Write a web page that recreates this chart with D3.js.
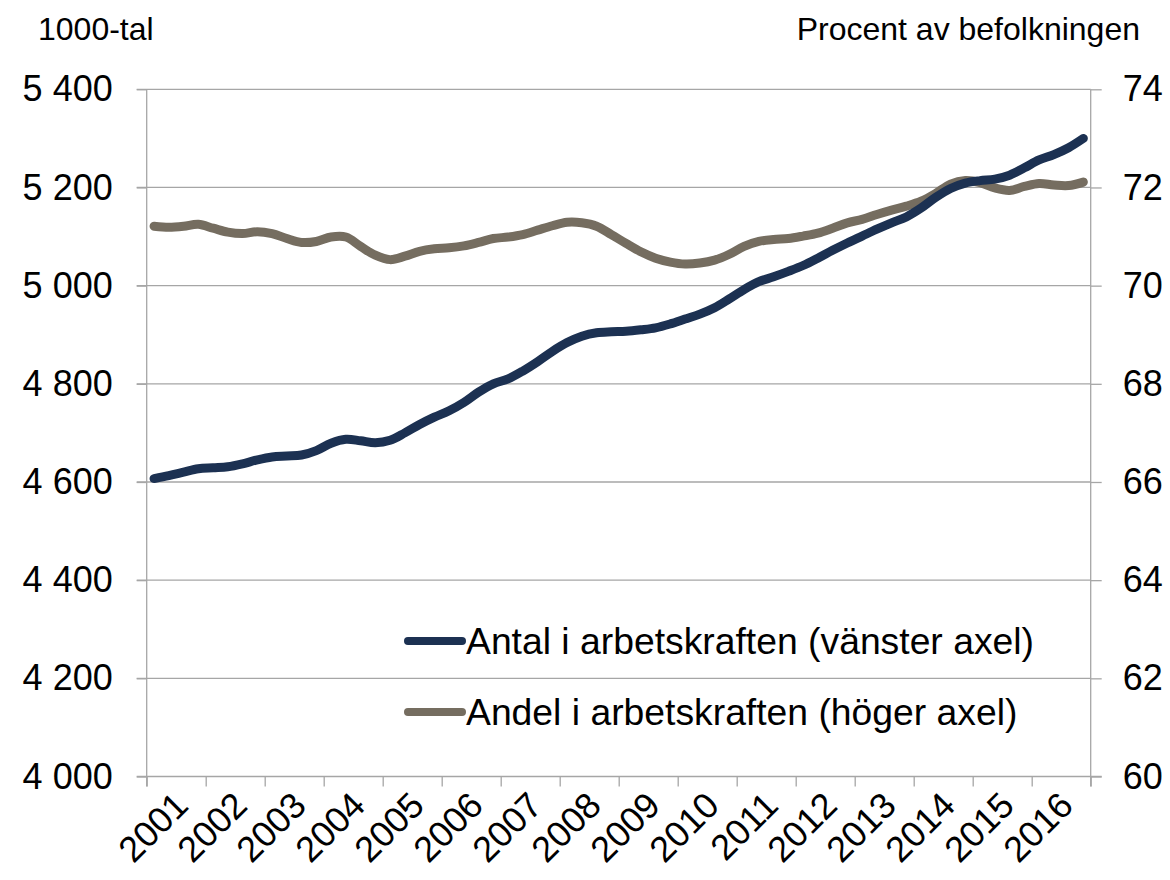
<!DOCTYPE html>
<html>
<head>
<meta charset="utf-8">
<script src="https://cdn.jsdelivr.net/npm/d3@7"></script>
<style>
  body { margin: 0; background: #fff; }
  svg { font-family: "Liberation Sans", Arial, sans-serif; }
</style>
</head>
<body>
<svg width="1170" height="880"></svg>
<script>
// quarterly data 2001 Q1 - 2016 Q4
const years = d3.range(2001, 2017);

// Antal i arbetskraften, 1000-tal (left axis)
const antal = [
  4607, 4613, 4620, 4627, 4629, 4631, 4637, 4645,
  4651, 4653, 4655, 4664, 4679, 4687, 4684, 4680,
  4685, 4700, 4717, 4732, 4745, 4762, 4783, 4800,
  4810, 4826, 4845, 4866, 4884, 4897, 4904, 4906,
  4907, 4910, 4914, 4922, 4932, 4942, 4955, 4973,
  4992, 5008, 5018, 5029, 5041, 5056, 5072, 5087,
  5101, 5115, 5128, 5140, 5158, 5180, 5198, 5209,
  5214, 5217, 5225, 5240, 5256, 5267, 5281, 5300
];

// Andel i arbetskraften, procent av befolkningen (right axis)
const andel = [
  71.21, 71.19, 71.21, 71.25, 71.17, 71.09, 71.06, 71.10,
  71.06, 70.96, 70.88, 70.90, 70.99, 70.99, 70.80, 70.62,
  70.53, 70.60, 70.70, 70.75, 70.77, 70.81, 70.88, 70.96,
  70.99, 71.04, 71.13, 71.22, 71.29, 71.28, 71.21, 71.04,
  70.86, 70.69, 70.56, 70.48, 70.44, 70.46, 70.52, 70.64,
  70.80, 70.90, 70.94, 70.96, 71.01, 71.07, 71.17, 71.28,
  71.35, 71.45, 71.54, 71.62, 71.72, 71.88, 72.07, 72.14,
  72.10, 71.99, 71.94, 72.02, 72.08, 72.05, 72.04, 72.11
];

const leftTicks = [4000, 4200, 4400, 4600, 4800, 5000, 5200, 5400];
const rightTicks = [60, 62, 64, 66, 68, 70, 72, 74];
const seriesNames = ["Antal i arbetskraften (vänster axel)", "Andel i arbetskraften (höger axel)"];
const colors = ["#1c3152", "#756d60"];

const svg = d3.select('svg');
const gridColor = '#a6a6a6';

const plotLeft = 146.7, plotRight = 1090.7, plotTop = 89.3, plotBottom = 776.5;

const x = d3.scaleLinear().domain([2001, 2017]).range([plotLeft, plotRight]);
const yL = d3.scaleLinear().domain([4000, 5400]).range([plotBottom, plotTop]);
const yR = d3.scaleLinear().domain([60, 74]).range([plotBottom, plotTop]);

const fmt = d3.formatLocale({decimal: ',', thousands: ' ', grouping: [3], currency: ['', '']}).format(',d');

// gridlines
svg.append('g')
  .selectAll('line')
  .data(leftTicks.slice(1))
  .join('line')
    .attr('x1', plotLeft - 10)
    .attr('x2', plotRight)
    .attr('y1', d => yL(d))
    .attr('y2', d => yL(d))
    .attr('stroke', gridColor)
    .attr('stroke-width', 1.3);

// left axis
const axL = svg.append('g')
  .attr('transform', `translate(${plotLeft},0)`)
  .call(d3.axisLeft(yL).tickValues(leftTicks).tickFormat(fmt).tickSize(10).tickPadding(24));
axL.select('.domain').remove();
axL.append('line').attr('y1', plotTop).attr('y2', plotBottom + 10);

// right axis
const axR = svg.append('g')
  .attr('transform', `translate(${plotRight},0)`)
  .call(d3.axisRight(yR).tickValues(rightTicks).tickSize(11).tickPadding(21));
axR.select('.domain').remove();
axR.append('line').attr('y1', plotTop).attr('y2', plotBottom + 10);

// bottom axis
const axB = svg.append('g')
  .attr('transform', `translate(0,${plotBottom})`)
  .call(d3.axisBottom(x).tickValues(d3.range(2001, 2018)).tickSize(10).tickFormat(''));
axB.select('.domain').remove();
axB.append('line').attr('x1', plotLeft - 10).attr('x2', plotRight + 11);

[axL, axR, axB].forEach(a => {
  a.selectAll('line').attr('stroke', gridColor).attr('stroke-width', 1.3);
  a.selectAll('text').attr('font-size', 36).attr('fill', '#000')
    .attr('font-family', '"Liberation Sans", Arial, sans-serif');
});

// year labels, rotated
svg.append('g')
  .selectAll('text')
  .data(years)
  .join('text')
    .attr('transform', d => `translate(${x(d + 0.5) + 14},${plotBottom + 31}) rotate(-45)`)
    .attr('text-anchor', 'end')
    .attr('font-size', 36)
    .text(d => d);

// lines
const qx = i => x(2001 + (i + 0.5) / 4);

const lineL = d3.line()
  .x((d, i) => qx(i))
  .y(d => yL(d))
  .curve(d3.curveCatmullRom.alpha(0.5));
const lineR = d3.line()
  .x((d, i) => qx(i))
  .y(d => yR(d))
  .curve(d3.curveCatmullRom.alpha(0.5));

svg.append('path')
  .attr('d', lineR(andel))
  .attr('fill', 'none')
  .attr('stroke', colors[1])
  .attr('stroke-width', 9)
  .attr('stroke-linecap', 'round')
  .attr('stroke-linejoin', 'round');

svg.append('path')
  .attr('d', lineL(antal))
  .attr('fill', 'none')
  .attr('stroke', colors[0])
  .attr('stroke-width', 9)
  .attr('stroke-linecap', 'round')
  .attr('stroke-linejoin', 'round');

// axis titles
svg.append('text')
  .attr('x', 38).attr('y', 40)
  .attr('font-size', 32)
  .text('1000-tal');
svg.append('text')
  .attr('x', 1140).attr('y', 40)
  .attr('text-anchor', 'end')
  .attr('font-size', 32)
  .text('Procent av befolkningen');

// legend
const legend = svg.append('g')
  .selectAll('g')
  .data(seriesNames)
  .join('g')
    .attr('transform', (d, i) => `translate(408,${641 + i * 71})`);
legend.append('line')
  .attr('x1', 0).attr('x2', 54)
  .attr('stroke', (d, i) => colors[i])
  .attr('stroke-width', 8)
  .attr('stroke-linecap', 'round');
legend.append('text')
  .attr('x', 58)
  .attr('y', 12.5)
  .attr('font-size', 37.3)
  .text(d => d);
</script>
</body>
</html>
